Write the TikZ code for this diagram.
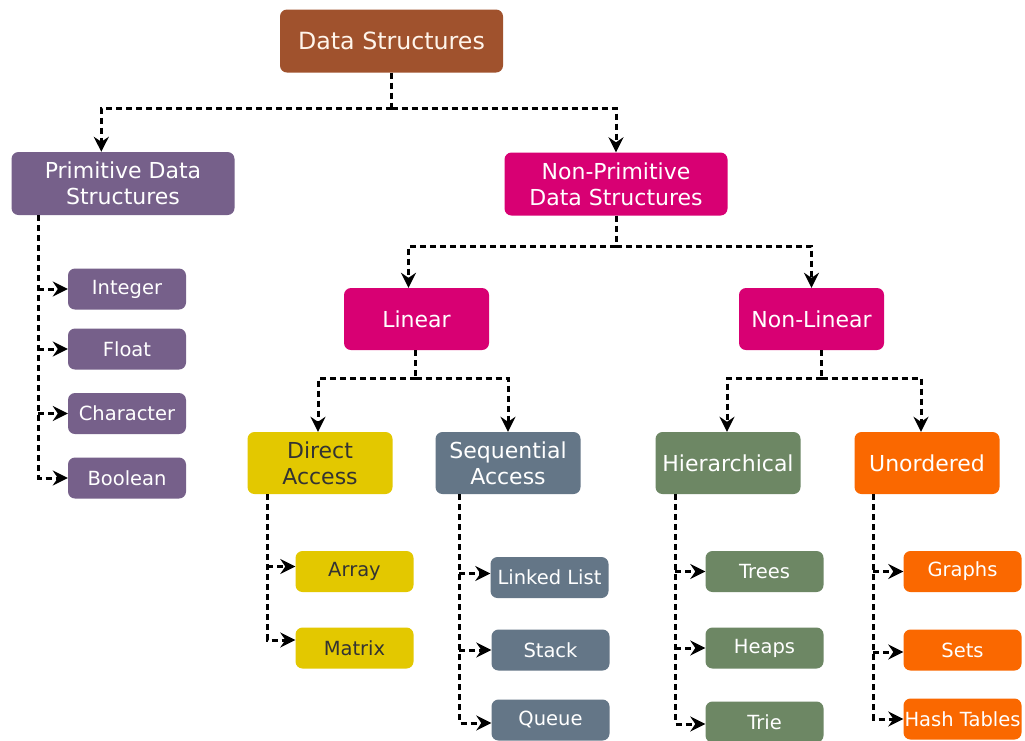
\documentclass[tikz,border=0pt]{standalone}
\usepackage{fontspec}
\setmainfont{DejaVu Sans}
\usetikzlibrary{arrows.meta}
\definecolor{cbrown}{HTML}{A0522D}
\definecolor{cpurple}{HTML}{76608A}
\definecolor{cmagenta}{HTML}{D80073}
\definecolor{cyellow}{HTML}{E3C800}
\definecolor{cslate}{HTML}{647687}
\definecolor{cgreen}{HTML}{6D8764}
\definecolor{corange}{HTML}{FA6800}
\tikzset{
  box/.style={rounded corners=7pt, inner sep=0pt, align=center, text=white,
    font=\fontsize{22}{26}\selectfont},
  topbox/.style={box, minimum width=223pt, minimum height=63pt},
  midbox/.style={box, minimum width=145pt, minimum height=62pt},
  leaf/.style={box, minimum width=118pt, minimum height=41pt, font=\fontsize{19.5}{23}\selectfont},
  dline/.style={draw=black, line width=3pt, dash pattern=on 6pt off 4pt},
  conn/.style={dline, -{Stealth[length=15pt,width=15pt,inset=5pt]}},
}
\begin{document}
\begin{tikzpicture}[x=1pt,y=-1pt]
\useasboundingbox[fill=white] (0,0) rectangle (1025,740);
% main nodes
\node[topbox, fill=cbrown, text=orange!8, font=\fontsize{23.7}{28}\selectfont] (ds) at (391.5,41) {Data Structures};
\node[topbox, fill=cpurple] (pds) at (123,183.5) {Primitive Data\\Structures};
\node[topbox, fill=cmagenta] (nps) at (616,184) {Non-Primitive\\Data Structures};
\node[midbox, fill=cmagenta] (lin) at (416.5,319) {Linear};
\node[midbox, fill=cmagenta] (nlin) at (811.5,319) {Non-Linear};
\node[midbox, fill=cyellow, text=black!80] (da) at (320,463) {Direct\\Access};
\node[midbox, fill=cslate] (sa) at (508,463) {Sequential\\Access};
\node[midbox, fill=cgreen] (hi) at (728,463) {Hierarchical};
\node[midbox, fill=corange] (un) at (927,463) {Unordered};
% leaves
\node[leaf, fill=cpurple] (int) at (127,289) {Integer};
\node[leaf, fill=cpurple] (flt) at (127,349) {Float};
\node[leaf, fill=cpurple] (chr) at (127,413.5) {Character};
\node[leaf, fill=cpurple] (bool) at (127,478) {Boolean};
\node[leaf, fill=cyellow, text=black!80] (arr) at (354.5,571.5) {Array};
\node[leaf, fill=cyellow, text=black!80] (mat) at (354.5,648) {Matrix};
\node[leaf, fill=cslate] (ll) at (549.5,577.5) {Linked List};
\node[leaf, fill=cslate] (stk) at (550.5,650) {Stack};
\node[leaf, fill=cslate] (que) at (550.5,720) {Queue};
\node[leaf, fill=cgreen] (tre) at (764.5,571.5) {Trees};
\node[leaf, fill=cgreen] (hea) at (764.5,648) {Heaps};
\node[leaf, fill=cgreen] (tri) at (764.5,722) {Trie};
\node[leaf, fill=corange] (gra) at (962.5,571.5) {Graphs};
\node[leaf, fill=corange] (set) at (962.5,650) {Sets};
\node[leaf, fill=corange] (hash) at (962.5,719) {Hash Tables};
% level junctions
\coordinate (j1) at (0,108);
\coordinate (j2) at (0,246);
\coordinate (j3) at (0,378);
\draw[dline] (ds.south) -- (ds.south |- j1);
\draw[conn] (ds.south |- j1) -| ([xshift=90pt]pds.north west);
\draw[conn] (ds.south |- j1) -| (nps.north);
\draw[dline] (nps.south) -- (nps.south |- j2);
\draw[conn] (nps.south |- j2) -| ([xshift=-8pt]lin.north);
\draw[conn] (nps.south |- j2) -| (nlin.north);
\draw[dline] ([xshift=-1pt]lin.south) -- ([xshift=-1pt]lin.south |- j3);
\draw[conn] ([xshift=-1pt]lin.south |- j3) -| ([xshift=-2pt]da.north);
\draw[conn] ([xshift=-1pt]lin.south |- j3) -| (sa.north);
\draw[dline] ([xshift=10pt]nlin.south) -- ([xshift=10pt]nlin.south |- j3);
\draw[conn] ([xshift=10pt]nlin.south |- j3) -| ([xshift=-1pt]hi.north);
\draw[conn] ([xshift=10pt]nlin.south |- j3) -| ([xshift=-6pt]un.north);
% trunks
\coordinate (tp) at ([xshift=27pt]pds.south west);
\draw[conn] (tp) |- (bool.west);
\draw[conn] (tp |- int.west) -- (int.west);
\draw[conn] (tp |- flt.west) -- (flt.west);
\draw[conn] (tp |- chr.west) -- (chr.west);
\coordinate (td) at ([xshift=20pt]da.south west);
\draw[conn] (td) |- ([yshift=8pt]mat.west);
\draw[conn] (td |- arr.west) ++(0,-5) -- ([yshift=5pt]arr.west);
\coordinate (ts) at ([xshift=24pt]sa.south west);
\draw[conn] (ts) |- ([yshift=-3pt]que.west);
\draw[conn] (ts |- ll.west) ++(0,-4) -- ([yshift=4pt]ll.west);
\draw[conn] (ts |- stk.west) -- (stk.west);
\coordinate (th) at ([xshift=20pt]hi.south west);
\draw[conn] (th) |- ([yshift=-2pt]tri.west);
\draw[conn] (th |- tre.west) -- (tre.west);
\draw[conn] (th |- hea.west) -- (hea.west);
\coordinate (tu) at ([xshift=19pt]un.south west);
\draw[conn] (tu) |- (hash.west);
\draw[conn] (tu |- gra.west) -- (gra.west);
\draw[conn] (tu |- set.west) ++(0,2) -- ([yshift=-2pt]set.west);
\end{tikzpicture}
\end{document}
